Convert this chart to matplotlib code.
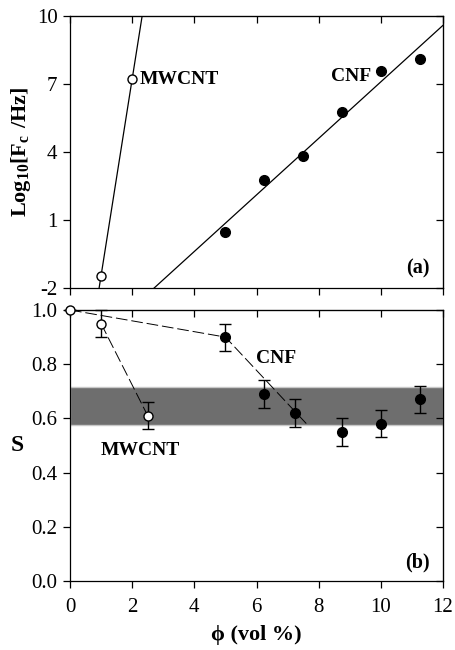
import numpy as np
import matplotlib
matplotlib.use("Agg")
import matplotlib.pyplot as plt

plt.rcParams['font.family'] = ['Liberation Serif', 'DejaVu Serif']
plt.rcParams['mathtext.fontset'] = 'custom'
plt.rcParams['mathtext.rm'] = 'Liberation Serif'
plt.rcParams['mathtext.bf'] = 'Liberation Serif:bold'
plt.rcParams['axes.unicode_minus'] = False

# ---- data: panel (a) ----
mw_phi_a = [1.0, 2.0]
mw_logfc = [-1.45, 7.22]
cnf_phi_a = [5.0, 6.25, 7.5, 8.75, 10.0, 11.25]
cnf_logfc = [0.48, 2.77, 3.82, 5.77, 7.59, 8.11]

# ---- data: panel (b) ----
mw_phi_b = [0.0, 1.0, 2.5]
mw_s = [1.0, 0.95, 0.61]
mw_err = [0.0, 0.05, 0.05]
cnf_phi_b = [5.0, 6.25, 7.25, 8.75, 10.0, 11.25]
cnf_s = [0.90, 0.69, 0.62, 0.55, 0.58, 0.67]
cnf_err = [0.05, 0.05, 0.05, 0.05, 0.05, 0.05]
cnf_trend_x = [0.0, 5.0, 7.65]
cnf_trend_y = [1.0, 0.90, 0.575]
band = [0.576, 0.717]

xticks = [0, 2, 4, 6, 8, 10, 12]
yticks_a = [-2, 1, 4, 7, 10]
yticks_b = [0.0, 0.2, 0.4, 0.6, 0.8, 1.0]

fig = plt.figure(figsize=(4.55, 6.5), dpi=100)
ax1 = fig.add_axes([70/455, 1-288/650, 373/455, 272/650])
ax2 = fig.add_axes([70/455, 1-581/650, 373/455, 271/650])

for ax in (ax1, ax2):
    ax.set_xlim(0, 12)
    ax.set_xticks(xticks)
    ax.tick_params(which='both', direction='out', length=5, width=0.9,
                   labelsize=15, top=False, right=False)
    ax.tick_params(axis='x', pad=7)
    ax.tick_params(axis='y', pad=4)
    for s in ax.spines.values():
        s.set_linewidth(0.9)

def inner_ticks(ax, yt):
    sec = ax.secondary_xaxis('top')
    sec.set_xticks(xticks)
    sec.tick_params(direction='in', length=5, width=0.9, labeltop=False)
    secy = ax.secondary_yaxis('right')
    secy.set_yticks(yt)
    secy.tick_params(direction='in', length=5, width=0.9, labelright=False)

# ---- panel (a) ----
ax1.set_ylim(-2, 10)
ax1.set_yticks(yticks_a)
ax1.set_xticklabels([])
inner_ticks(ax1, yticks_a)

pm = np.polyfit(mw_phi_a, mw_logfc, 1)
xl = np.linspace(0, 12, 400)
ax1.plot(xl, np.polyval(pm, xl), color='black', lw=0.9)
pc = np.polyfit(cnf_phi_a, cnf_logfc, 1)
ax1.plot(xl, np.polyval(pc, xl), color='black', lw=0.9)
ax1.plot(mw_phi_a, mw_logfc, 'o', ms=6.5, mfc='white', mec='black', mew=1.0, zorder=5)
ax1.plot(cnf_phi_a, cnf_logfc, 'o', ms=7, color='black', zorder=5)

ax1.text(2.25, 7.22, 'MWCNT', fontsize=14, fontweight='bold', va='center', ha='left')
ax1.text(8.4, 7.31, 'CNF', fontsize=14, fontweight='bold', va='center', ha='left')
ax1.text(0.965, 0.035, '(a)', transform=ax1.transAxes, fontsize=14.5,
         fontweight='bold', ha='right', va='bottom')
ax1.set_ylabel(r'$\mathbf{Log_{10}[F_c\ /Hz]}$', fontsize=16, labelpad=3)

# ---- panel (b) ----
ax2.set_ylim(0, 1.0)
ax2.set_yticks(yticks_b)
ax2.set_yticklabels([f'{v:.1f}' for v in yticks_b])
inner_ticks(ax2, yticks_b)

ax2.axhspan(band[0], band[1], facecolor='#6e6e6e', edgecolor='#c8c8c8', lw=1.0, zorder=0)

ax2.plot(cnf_trend_x, cnf_trend_y, color='black', lw=0.7, dashes=(12, 4), zorder=2)
ax2.plot(mw_phi_b[1:], mw_s[1:], color='black', lw=0.7, dashes=(12, 4), zorder=2)

ax2.errorbar(cnf_phi_b, cnf_s, yerr=cnf_err, fmt='o', ms=7, color='black',
             ecolor='black', elinewidth=1.0, capsize=4, capthick=1.0, zorder=5)
ax2.errorbar(mw_phi_b, mw_s, yerr=mw_err, fmt='o', ms=6.5, mfc='white', mec='black',
             mew=1.0, ecolor='black', elinewidth=1.0, capsize=4, capthick=1.0, zorder=6,
             clip_on=False)

ax2.text(5.98, 0.82, 'CNF', fontsize=14, fontweight='bold', va='center', ha='left')
ax2.text(1.0, 0.48, 'MWCNT', fontsize=14, fontweight='bold', va='center', ha='left')
ax2.text(0.965, 0.03, '(b)', transform=ax2.transAxes, fontsize=14.5,
         fontweight='bold', ha='right', va='bottom')
ax2.set_ylabel('S', fontsize=17, fontweight='bold', rotation=0, labelpad=10, va='center')
ax2.set_xlabel('ϕ (vol %)', fontsize=16, fontweight='bold', labelpad=6)

fig.savefig('out.png', dpi=100)
